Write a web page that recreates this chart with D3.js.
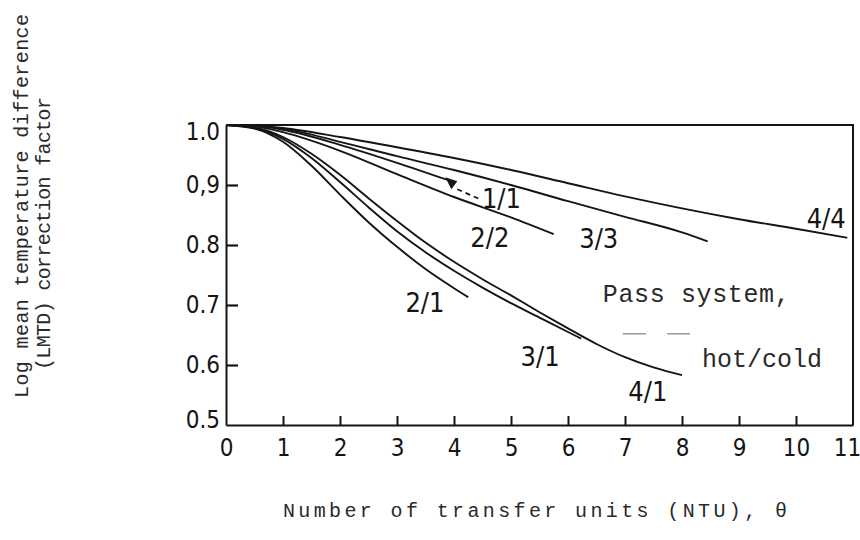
<!DOCTYPE html>
<html>
<head>
<meta charset="utf-8">
<script src="https://cdnjs.cloudflare.com/ajax/libs/d3/7.8.5/d3.min.js"></script>
<style>
  body { margin: 0; background: #fff; }
  .tickText { font-family: "Liberation Sans Narrow", "DejaVu Sans Condensed", sans-serif; fill: #151515; }
  .curveText { font-family: "Liberation Sans Narrow", "DejaVu Sans Condensed", sans-serif; fill: #151515; }
  .typeText { font-family: "Liberation Mono", "DejaVu Sans Mono", monospace; fill: #2a2a2a; }
</style>
</head>
<body>
<div id="chart"></div>
<script>
// tick values and labels
var xTickValues = [0, 1, 2, 3, 4, 5, 6, 7, 8, 9, 10, 11];
var xTickLabels = ["0", "1", "2", "3", "4", "5", "6", "7", "8", "9", "10", "11"];
var yTickValues = [0.5, 0.6, 0.7, 0.8, 0.9, 1.0];
var yTickLabels = ["0.5", "0.6", "0.7", "0.8", "0,9", "1.0"];

// pass systems (hot/cold), [NTU, correction factor]
var pass44 = [[0, 1], [0.5, 0.999], [1, 0.995], [2, 0.98], [3, 0.963], [4, 0.945], [5, 0.925], [6, 0.903], [7, 0.881], [8, 0.861], [9, 0.843], [10, 0.827], [10.9, 0.812]];
var pass33 = [[0, 1], [0.5, 0.999], [1, 0.994], [2, 0.972], [3, 0.948], [4, 0.925], [5, 0.9], [6, 0.873], [7, 0.847], [8, 0.821], [8.45, 0.806]];
var pass11 = [[0, 1], [0.5, 0.999], [1, 0.992], [2, 0.967], [3, 0.937], [3.9, 0.908]];
var pass22 = [[0, 1], [0.5, 0.998], [1, 0.988], [2, 0.957], [3, 0.918], [4, 0.88], [5, 0.846], [5.75, 0.818]];
var pass21 = [[0, 1], [0.5, 0.994], [1, 0.972], [1.5, 0.932], [2, 0.884], [2.5, 0.838], [3, 0.797], [3.5, 0.76], [4, 0.728], [4.25, 0.713]];
var pass31 = [[0, 1], [0.5, 0.995], [1, 0.977], [1.5, 0.945], [2, 0.905], [2.5, 0.863], [3, 0.823], [3.5, 0.788], [4, 0.757], [4.5, 0.729], [5, 0.703], [5.5, 0.679], [6, 0.655], [6.23, 0.644]];
var pass41 = [[0, 1], [0.5, 0.996], [1, 0.98], [1.5, 0.952], [2, 0.917], [2.5, 0.878], [3, 0.84], [3.5, 0.804], [4, 0.772], [4.5, 0.743], [5, 0.716], [5.5, 0.688], [6, 0.661], [6.5, 0.635], [7, 0.613], [7.5, 0.596], [8, 0.583]];

var curveNames = ["4/4", "3/3", "1/1", "2/2", "2/1", "3/1", "4/1"];
var curveData = [pass44, pass33, pass11, pass22, pass21, pass31, pass41];

// label spots in data units (x = NTU, y = factor)
var curveLabelX = [10.53, 6.54, 4.49, 4.63, 3.49, 5.51, 7.40];
var curveLabelY = [0.829, 0.795, 0.862, 0.797, 0.688, 0.598, 0.54];

var svgWidth = 860;
var svgHeight = 540;

var svg = d3.select("#chart")
  .append("svg")
  .attr("width", svgWidth)
  .attr("height", svgHeight)
  .style("background", "#fff");

var xScale = d3.scaleLinear().domain([0, 11]).range([226, 853]);
var yScale = d3.scaleLinear().domain([0.5, 1.0]).range([425, 125]);

// frame: top and right edges
svg.append("path")
  .attr("d", "M" + xScale(0) + "," + yScale(1) + "H" + xScale(11) + "V" + yScale(0.5))
  .attr("fill", "none")
  .attr("stroke", "#151515")
  .attr("stroke-width", 2);

// bottom axis, ticks pointing up into the plot
var bottomAxis = d3.axisBottom(xScale)
  .tickValues(xTickValues)
  .tickFormat((d, i) => xTickLabels[i])
  .tickSizeInner(-9)
  .tickSizeOuter(0)
  .tickPadding(14);

var xAxisG = svg.append("g")
  .attr("transform", `translate(0, ${yScale(0.5)})`)
  .call(bottomAxis);

xAxisG.select(".domain").attr("stroke", "#151515").attr("stroke-width", 2);
xAxisG.selectAll(".tick line").attr("stroke", "#151515").attr("stroke-width", 2)
  .attr("display", d => (d === 0 || d === 11) ? "none" : null);
xAxisG.selectAll("text")
  .attr("class", "tickText")
  .attr("font-size", "24px")
  .attr("fill", "#151515")
  .attr("dx", d => d === 11 ? "-0.25em" : null);

// left axis, ticks pointing right
var leftAxis = d3.axisLeft(yScale)
  .tickValues(yTickValues)
  .tickFormat((d, i) => yTickLabels[i])
  .tickSizeInner(-12)
  .tickSizeOuter(0)
  .tickPadding(6);

var yAxisG = svg.append("g")
  .attr("transform", `translate(${xScale(0)}, 0)`)
  .call(leftAxis);

yAxisG.select(".domain").attr("stroke", "#151515").attr("stroke-width", 2);
yAxisG.selectAll(".tick line").attr("stroke", "#151515").attr("stroke-width", 2.2)
  .attr("display", d => (d === 0.5 || d === 1.0) ? "none" : null);
yAxisG.selectAll("text")
  .attr("class", "tickText")
  .attr("font-size", "24px")
  .attr("fill", "#151515")
  .attr("dy", d => d === 1.0 ? "0.62em" : (d === 0.5 ? "0.1em" : "0.32em"));

// curves
var line = d3.line()
  .x(d => xScale(d[0]))
  .y(d => yScale(d[1]))
  .curve(d3.curveMonotoneX);

svg.append("g")
  .selectAll("path")
  .data(curveData)
  .enter()
  .append("path")
  .attr("d", line)
  .attr("fill", "none")
  .attr("stroke", "#151515")
  .attr("stroke-width", 1.9);

// curve labels
svg.append("g")
  .selectAll("text")
  .data(curveNames)
  .enter()
  .append("text")
  .attr("class", "curveText")
  .attr("x", (d, i) => xScale(curveLabelX[i]))
  .attr("y", (d, i) => yScale(curveLabelY[i]))
  .attr("text-anchor", d => d === "1/1" ? "start" : "middle")
  .attr("font-size", "27px")
  .text(d => d);

// arrow mark at the end of 1/1 with dashed leader to its label
var end11 = pass11[pass11.length - 1];
var ax = xScale(end11[0]), ay = yScale(end11[1]);
svg.append("path")
  .attr("d", `M${ax - 3},${ay - 3} L${ax + 9},${ay + 1} L${ax + 3},${ay + 9} Z`)
  .attr("fill", "#151515");
svg.append("line")
  .attr("x1", ax + 9).attr("y1", ay + 9)
  .attr("x2", xScale(curveLabelX[2]) - 2).attr("y2", ay + 19)
  .attr("stroke", "#151515")
  .attr("stroke-width", 1.8)
  .attr("stroke-dasharray", "5,4");

// "Pass system, hot/cold" note
svg.append("text")
  .attr("class", "typeText")
  .attr("x", xScale(6.61))
  .attr("y", yScale(0.705))
  .attr("font-size", "25px")
  .attr("textLength", 187)
  .attr("lengthAdjust", "spacing")
  .text("Pass system,");

svg.append("g")
  .selectAll("line")
  .data([[6.96, 7.37], [7.74, 8.14]])
  .enter()
  .append("line")
  .attr("x1", d => xScale(d[0]))
  .attr("x2", d => xScale(d[1]))
  .attr("y1", yScale(0.652))
  .attr("y2", yScale(0.652))
  .attr("stroke", "#999")
  .attr("stroke-width", 1.5);

svg.append("text")
  .attr("class", "typeText")
  .attr("x", xScale(8.35))
  .attr("y", yScale(0.597))
  .attr("font-size", "25px")
  .attr("textLength", 120)
  .attr("lengthAdjust", "spacing")
  .text("hot/cold");

// axis titles
svg.append("text")
  .attr("class", "typeText")
  .attr("transform", "translate(28, 398) rotate(-90)")
  .attr("font-size", "20px")
  .attr("textLength", 384)
  .attr("lengthAdjust", "spacing")
  .attr("fill", "#333")
  .text("Log mean temperature difference");

svg.append("text")
  .attr("class", "typeText")
  .attr("transform", "translate(50, 370) rotate(-90)")
  .attr("font-size", "20px")
  .attr("textLength", 273)
  .attr("lengthAdjust", "spacing")
  .attr("fill", "#333")
  .text("(LMTD) correction factor");

svg.append("text")
  .attr("class", "typeText")
  .attr("x", 283)
  .attr("y", 517)
  .attr("font-size", "20px")
  .attr("textLength", 504)
  .attr("lengthAdjust", "spacing")
  .attr("fill", "#222")
  .text("Number of transfer units (NTU), θ");
</script>
</body>
</html>
